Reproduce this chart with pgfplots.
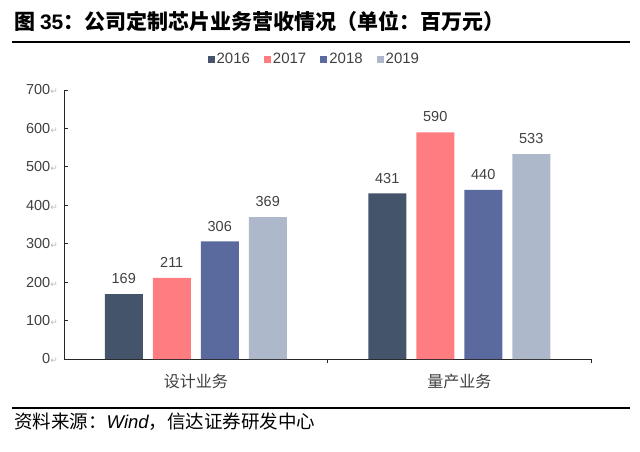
\documentclass[border=0pt]{standalone}
\usepackage{pgfplots}
\pgfplotsset{compat=1.18}
\usepackage{fontspec}
\setmainfont{Liberation Sans}
\newfontfamily\cjk{Noto Sans CJK SC}
\newfontfamily\dejavu{DejaVu Sans}
\definecolor{cA}{HTML}{44546A}
\definecolor{cB}{HTML}{FF7C80}
\definecolor{cC}{HTML}{5A6A9F}
\definecolor{cD}{HTML}{ADB9CA}
\definecolor{tgray}{HTML}{404040}
\begin{document}
\begin{tikzpicture}
\useasboundingbox (0pt,0pt) rectangle (640pt,-452pt);
\node[anchor=west,inner sep=0] at (14pt,-21pt) {\cjk\bfseries\fontsize{21}{25}\selectfont 图 {\rmfamily\bfseries 35}：公司定制芯片业务营收情况（单位：百万元）};
\draw[line width=2.5pt] (12pt,-42pt) -- (630pt,-42pt);
\draw[line width=2.5pt] (12pt,-408pt) -- (630pt,-408pt);
\node[anchor=west,inner sep=0] at (14pt,-422pt) {\cjk\fontsize{18.5}{22}\selectfont 资料来源：{\rmfamily\itshape Wind}，信达证券研发中心};
\begin{axis}[
  at={(64pt,-359pt)}, anchor=south west,
  scale only axis, width=527pt, height=269pt,
  xmin=-0.5, xmax=1.5, ymin=0, ymax=700,
  axis lines*=left,
  axis line style={draw=black!85, line width=0.8pt},
  clip=false,
  ybar=10pt, bar width=38pt,
  legend image code/.code={\fill[#1] (0pt,-3.5pt) rectangle (7pt,3.5pt);},
  ytick={0,100,...,700},
  tick align=inside, major tick length=4pt,
  ytick style={draw=black!85, line width=0.8pt},
  xtick={0,1}, xtick style={draw=none},
  xticklabels={设计业务,量产业务},
  xticklabel style={font=\cjk\fontsize{16}{19}\selectfont, text=tgray, anchor=center, yshift=-22pt},
  /pgf/number format/assume math mode=true,
  yticklabel={\pgfmathprintnumber{\tick}{\dejavu\color{gray!55}\fontsize{9}{9}\selectfont ↵}},
  yticklabel style={font=\fontsize{14.5}{16}\selectfont, text=tgray, inner sep=0pt, anchor=east, xshift=-6pt},
  nodes near coords,
  every node near coord/.append style={font=\fontsize{14.5}{16}\selectfont, text=tgray, inner sep=0pt, anchor=south, yshift=10pt},
  legend columns=4,
  legend style={at={(0.475,1)}, anchor=center, yshift=31pt, draw=none, fill=none,
    font=\fontsize{15}{17}\selectfont, text=tgray,
    /tikz/every even column/.append style={column sep=12pt}},
]
\addplot[fill=cA, draw=none] coordinates {(0,169) (1,431)};
\addplot[fill=cB, draw=none] coordinates {(0,211) (1,590)};
\addplot[fill=cC, draw=none] coordinates {(0,306) (1,440)};
\addplot[fill=cD, draw=none] coordinates {(0,369) (1,533)};
\legend{2016,2017,2018,2019}
\draw[black!85, line width=0.8pt] (axis cs:0.5,0) -- ([yshift=-4pt]axis cs:0.5,0);
\draw[black!85, line width=0.8pt] (axis cs:1.5,0) -- ([yshift=-4pt]axis cs:1.5,0);
\end{axis}
\end{tikzpicture}
\end{document}
